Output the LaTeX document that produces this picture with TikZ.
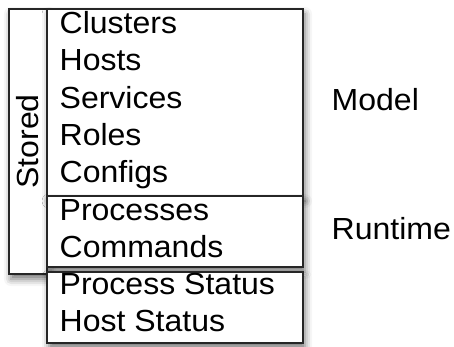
\documentclass[tikz,border=0pt]{standalone}
\usepackage{fontspec}
\setmainfont{Liberation Sans}[FakeStretch=1.05]
\usetikzlibrary{positioning,shadows.blur}
\tikzset{
  every picture/.append style={line width=1.3pt},
  every node/.append style={font=\fontsize{30.5}{36}\selectfont},
}
\tikzset{
  box/.style={draw=black!85, fill=white, inner sep=0pt, outer sep=0pt, minimum width=256pt,
    blur shadow={shadow xshift=2pt, shadow yshift=-5pt, shadow blur radius=7pt, shadow opacity=55}},
  item/.style={anchor=base west, inner sep=0pt},
  layer/.style={anchor=west, inner sep=0pt, yshift=2.5pt}
}

\begin{document}
\begin{tikzpicture}[x=1pt, y=-1pt]
\useasboundingbox (0,0) rectangle (454,347);

% --- Stored column with its upright label ---
\node[box, minimum width=38pt, minimum height=265pt, anchor=north west] (stored) at (9,9) {};
\node[rotate=90, inner sep=0pt] (storedlbl) at (stored.center) {Stored};

% --- Model, Runtime and status boxes ---
\node[box, minimum height=187pt, anchor=north west] (model) at (47,9) {};
\node[box, minimum height=71pt, below=0pt of model] (runtime) {};
\node[box, minimum height=71pt, below=5pt of runtime] (status) {};

% --- Entries (one per row) ---
\node[item] (clusters) at (59,33.5) {Clusters};
\node[item] (hosts) at (59,70.8) {Hosts};
\node[item] (services) at (59,108.1) {Services};
\node[item] (roles) at (59,145.4) {Roles};
\node[item] (configs) at (59,182.7) {Configs};
\node[item] (processes) at (59,220.5) {Processes};
\node[item] (commands) at (59,257.6) {Commands};
\node[item] (procstatus) at (59,294.8) {Process Status};
\node[item] (hoststatus) at (59,331.8) {Host Status};

% --- Labels on the right ---
\node[layer, right=28pt of model.east] (modellbl) {Model};
\node[layer, right=28pt of runtime.east] (runtimelbl) {Runtime};

\end{tikzpicture}
\end{document}
